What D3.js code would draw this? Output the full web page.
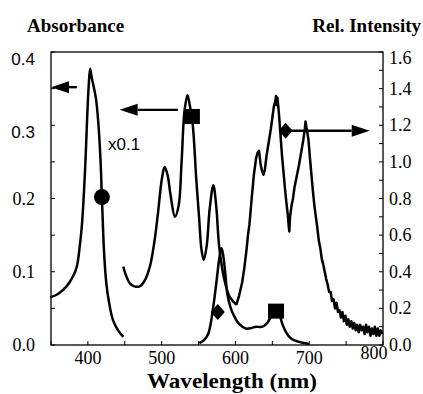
<!DOCTYPE html>
<html>
<head>
<meta charset="utf-8">
<script src="https://cdn.jsdelivr.net/npm/d3@7"></script>
<style>
  body { margin: 0; background: #fff; }
  svg { display: block; }
</style>
</head>
<body>
<svg id="chart" width="423" height="394"></svg>
<script>
// Soret band, absorbance (shown x0.1), left axis
const soretWl  = [349, 360, 371, 380, 385, 389, 392, 396, 399, 401, 403, 405, 408, 411, 414, 417, 419, 422, 425, 428, 434, 441, 448];
const soretAbs = [0.065, 0.070, 0.080, 0.094, 0.107, 0.135, 0.165, 0.235, 0.310, 0.352, 0.377, 0.366, 0.352, 0.336, 0.305, 0.255, 0.202, 0.125, 0.084, 0.062, 0.034, 0.020, 0.011];

// Q-band absorbance, left axis
const qWl  = [448, 452, 457, 463, 470, 477, 484, 490, 495, 500, 504, 508, 512, 518, 523, 527, 531, 535, 538, 542, 547, 551, 554, 557, 561, 565, 570, 574, 578, 585, 592, 601];
const qAbs = [0.107, 0.094, 0.084, 0.080, 0.080, 0.088, 0.107, 0.140, 0.180, 0.225, 0.243, 0.232, 0.205, 0.175, 0.190, 0.250, 0.320, 0.341, 0.328, 0.302, 0.225, 0.170, 0.130, 0.116, 0.135, 0.185, 0.218, 0.189, 0.134, 0.089, 0.066, 0.055];

// emission, right axis
const emWl  = [601, 605, 609, 612, 615, 617, 619, 622, 625, 628, 630, 632, 634, 636, 638, 640, 642, 644, 646, 648, 650, 652, 654, 655, 656, 657, 659, 661, 663, 665, 667, 669, 671, 672, 673, 674, 676, 678, 680, 683, 686, 689, 692, 694, 695, 697, 699, 701, 703, 705, 707, 709, 711, 713, 715, 717, 719, 721, 723, 725, 727, 729, 731, 733, 735, 737, 739, 741, 743, 745, 747, 749, 751, 753, 755, 757, 759, 761, 763, 765, 767, 769, 771, 773, 775, 777, 779, 781, 783, 785, 787, 789, 791, 793, 795, 797, 799];
const emInt = [0.218, 0.27, 0.34, 0.42, 0.52, 0.60, 0.66, 0.80, 0.93, 1.02, 1.05, 1.06, 0.99, 0.95, 0.93, 0.96, 1.03, 1.08, 1.13, 1.18, 1.24, 1.30, 1.33, 1.36, 1.31, 1.35, 1.26, 1.15, 1.04, 0.95, 0.86, 0.78, 0.71, 0.66, 0.62, 0.70, 0.76, 0.80, 0.86, 0.92, 0.98, 1.05, 1.12, 1.18, 1.22, 1.17, 1.12, 1.02, 0.93, 0.84, 0.76, 0.70, 0.64, 0.57, 0.53, 0.47, 0.44, 0.40, 0.36, 0.33, 0.29, 0.29, 0.24, 0.25, 0.20, 0.23, 0.18, 0.19, 0.15, 0.18, 0.13, 0.16, 0.11, 0.14, 0.10, 0.13, 0.09, 0.12, 0.08, 0.11, 0.07, 0.11, 0.08, 0.10, 0.06, 0.11, 0.07, 0.10, 0.05, 0.09, 0.06, 0.10, 0.05, 0.09, 0.05, 0.08, 0.06];

// second emission, right axis
const em2Wl  = [551, 557, 563, 567, 571, 575, 578, 581, 583, 586, 589, 593, 598, 605, 614, 621, 628, 634, 639, 644, 648, 652, 655, 658, 661, 664, 668, 673, 680, 691, 700];
const em2Int = [0.010, 0.025, 0.060, 0.130, 0.240, 0.370, 0.470, 0.528, 0.500, 0.400, 0.280, 0.210, 0.160, 0.115, 0.090, 0.092, 0.100, 0.098, 0.105, 0.125, 0.155, 0.180, 0.190, 0.180, 0.150, 0.110, 0.075, 0.045, 0.025, 0.012, 0.006];

// markers: [wavelength, value, axis, shape]
const markers = [
  [419, 0.202, 'L', 'circle'],
  [541, 0.312, 'L', 'square'],
  [576, 0.180, 'R', 'diamond'],
  [655, 0.185, 'R', 'square'],
  [668, 1.170, 'R', 'diamond']
];

// arrows: [from wl, to wl, value, axis]
const arrows = [
  [385, 350, 0.352, 'L'],
  [522, 443, 0.321, 'L'],
  [668, 782, 1.170, 'R']
];

const xTicks = [400, 500, 600, 700, 800];
const leftTicks = [0.0, 0.1, 0.2, 0.3, 0.4];
const rightTicks = [0.0, 0.2, 0.4, 0.6, 0.8, 1.0, 1.2, 1.4, 1.6];

const svg = d3.select('#chart');
const plotL = 51, plotR = 383, plotT = 52, plotB = 345;

const x = d3.scaleLinear().domain([350, 800]).range([plotL, plotR]);
const yL = d3.scaleLinear().domain([0, 0.4]).range([plotB, plotT]);
const yR = d3.scaleLinear().domain([0, 1.6]).range([plotB, plotT]);

const serif = '"Liberation Serif", "Times New Roman", serif';
const sans = '"Liberation Sans", Arial, sans-serif';

// frame
svg.append('rect')
  .attr('x', plotL).attr('y', plotT)
  .attr('width', plotR - plotL).attr('height', plotB - plotT)
  .attr('fill', 'none').attr('stroke', '#000').attr('stroke-width', 1.3);

// inside ticks
svg.append('g').selectAll('line').data(d3.range(350, 801, 50)).enter().append('line')
  .attr('x1', d => x(d)).attr('x2', d => x(d))
  .attr('y1', plotB).attr('y2', plotB - 4)
  .attr('stroke', '#000').attr('stroke-width', 1);
svg.append('g').selectAll('line').data(d3.range(0, 0.401, 0.05)).enter().append('line')
  .attr('x1', plotL).attr('x2', plotL + 4)
  .attr('y1', d => yL(d)).attr('y2', d => yL(d))
  .attr('stroke', '#000').attr('stroke-width', 1);
svg.append('g').selectAll('line').data(d3.range(0, 1.601, 0.1)).enter().append('line')
  .attr('x1', plotR).attr('x2', plotR - 4)
  .attr('y1', d => yR(d)).attr('y2', d => yR(d))
  .attr('stroke', '#000').attr('stroke-width', 1);

// tick labels
svg.append('g').selectAll('text').data(xTicks).enter().append('text')
  .attr('x', d => x(d) + (d === 800 ? -9 : 0))
  .attr('y', d => d === 800 ? 359 : 364)
  .attr('text-anchor', 'middle')
  .attr('font-family', serif).attr('font-size', 18)
  .text(d => d);

svg.append('g').selectAll('text').data(leftTicks).enter().append('text')
  .attr('x', 35)
  .attr('y', d => yL(d) + (d >= 0.3 ? 13 : 6))
  .attr('text-anchor', 'end')
  .attr('font-family', d => d >= 0.3 ? sans : serif)
  .attr('font-size', d => d >= 0.3 ? 17 : 18)
  .text(d => d.toFixed(1));

svg.append('g').selectAll('text').data(rightTicks).enter().append('text')
  .attr('x', 389)
  .attr('y', d => yR(d) + (d === 1.6 ? 12 : 6))
  .attr('font-family', serif).attr('font-size', 18)
  .text(d => d.toFixed(1));

// titles
svg.append('text').attr('x', 27).attr('y', 32)
  .attr('font-family', serif).attr('font-weight', 'bold').attr('font-size', 19)
  .text('Absorbance');
svg.append('text').attr('x', 421).attr('y', 32).attr('text-anchor', 'end')
  .attr('font-family', serif).attr('font-weight', 'bold').attr('font-size', 19)
  .text('Rel. Intensity');
svg.append('text').attr('x', 232).attr('y', 388).attr('text-anchor', 'middle')
  .attr('font-family', serif).attr('font-weight', 'bold').attr('font-size', 21)
  .attr('textLength', 170).attr('lengthAdjust', 'spacingAndGlyphs')
  .text('Wavelength (nm)');
svg.append('text').attr('x', 108).attr('y', 150)
  .attr('font-family', sans).attr('font-size', 17)
  .text('x0.1');

// curves
const lineL = d3.line().x(d => x(d[0])).y(d => yL(d[1])).curve(d3.curveCatmullRom.alpha(0.5));
const lineR = d3.line().x(d => x(d[0])).y(d => yR(d[1])).curve(d3.curveCatmullRom.alpha(0.5));
const lineRaw = d3.line().x(d => x(d[0])).y(d => yR(d[1]));

const curves = [
  [d3.zip(soretWl, soretAbs), lineL],
  [d3.zip(qWl, qAbs), lineL],
  [d3.zip(em2Wl, em2Int), lineR],
  [d3.zip(emWl, emInt), lineRaw]
];
curves.forEach(([data, gen]) => {
  svg.append('path').attr('d', gen(data))
    .attr('fill', 'none').attr('stroke', '#000')
    .attr('stroke-width', 2.5).attr('stroke-linejoin', 'round');
});

// arrows
arrows.forEach(([from, to, v, ax]) => {
  const ys = ax === 'L' ? yL : yR;
  const x1 = x(from), x2 = x(to), yy = ys(v);
  const dir = Math.sign(x2 - x1);
  const head = 18, half = 6;
  svg.append('line')
    .attr('x1', x1).attr('y1', yy).attr('x2', x2 - dir * head).attr('y2', yy)
    .attr('stroke', '#000').attr('stroke-width', 2.4);
  svg.append('path')
    .attr('d', d3.line()([[x2, yy], [x2 - dir * head, yy - half], [x2 - dir * head, yy + half]]) + 'Z')
    .attr('fill', '#000');
});

// markers
markers.forEach(([wl, v, ax, shape]) => {
  const cx = x(wl), cy = (ax === 'L' ? yL : yR)(v);
  if (shape === 'circle') {
    svg.append('circle').attr('cx', cx).attr('cy', cy).attr('r', 8).attr('fill', '#000');
  } else if (shape === 'square') {
    svg.append('rect').attr('x', cx - 8).attr('y', cy - 7.5).attr('width', 16).attr('height', 15).attr('fill', '#000');
  } else {
    svg.append('path').attr('d', `M${cx},${cy - 8}L${cx + 7},${cy}L${cx},${cy + 8}L${cx - 7},${cy}Z`).attr('fill', '#000');
  }
});
</script>
</body>
</html>
